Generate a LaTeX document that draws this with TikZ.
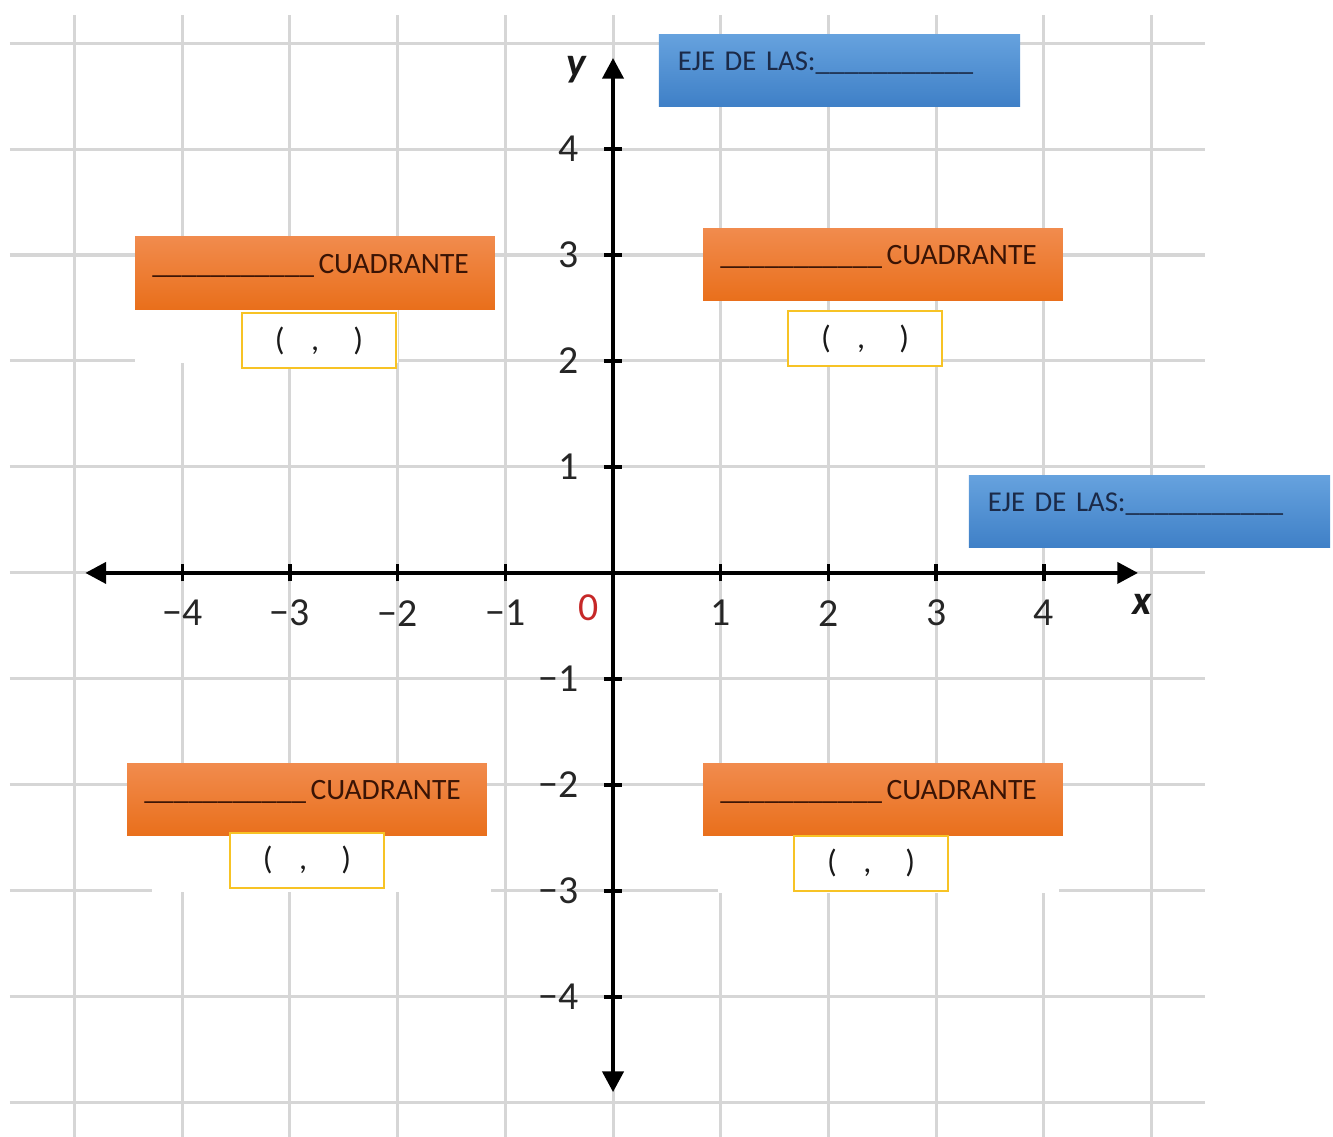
\documentclass[tikz,border=0pt]{standalone}
\usepackage{fontspec}
\setmainfont{Carlito}
\usetikzlibrary{arrows.meta}

\definecolor{rejilla}{HTML}{D6D6D6}
\definecolor{naranjaA}{HTML}{F18B4D}
\definecolor{naranjaB}{HTML}{E96F1B}
\definecolor{azulA}{HTML}{66A2DE}
\definecolor{azulB}{HTML}{3F80C7}
\definecolor{textoN}{HTML}{3A1405}
\definecolor{textoA}{HTML}{1B2A48}
\definecolor{amarillo}{HTML}{F7C325}
\definecolor{cero}{HTML}{C62828}

\newcommand{\raya}{\_\_\_\_\_\_\_\_\_\_\_}

\begin{document}
\begin{tikzpicture}[x=1cm, y=0.984cm,
        rejillalinea/.style={rejilla, line width=0.8pt},
        eje/.style={line width=1.2pt, {Triangle[length=5.5pt,width=5.5pt]}-{Triangle[length=5.5pt,width=5.5pt]}},
        marca/.style={line width=0.9pt},
        numero/.style={font=\fontsize{10.5}{12}\selectfont, text=black!85, inner sep=0pt},
        nombre/.style={font=\fontsize{11}{13}\selectfont\bfseries\itshape, text=black!90, inner sep=0pt},
        cuadrante/.style={top color=naranjaA, bottom color=naranjaB, text=textoN,
            font=\fontsize{7.8}{9}\selectfont, align=left, text width=86pt, inner xsep=4.5pt,
            minimum height=0.669cm, text height=5pt, text depth=5pt},
        ejelas/.style={top color=azulA, bottom color=azulB, text=textoA,
            font=\fontsize{7.6}{9}\selectfont, align=left, text width=85.4pt, inner xsep=5pt,
            minimum height=0.669cm, text height=5pt, text depth=5pt},
        par/.style={draw=amarillo, fill=white, line width=0.7pt, minimum width=1.43cm,
            minimum height=0.511cm, inner sep=0pt, font=\fontsize{8.5}{9}\selectfont, text=black!90}]

    \useasboundingbox (-5.692,-5.321) rectangle (6.685,5.406);

    % rejilla
    \foreach \i in {-5,...,5} {
        \draw[rejillalinea] (\i,-5.33) -- (\i,5.26);
        \draw[rejillalinea] (-5.6,\i) -- (5.5,\i);
    }
    \fill[white] (-4.44,1.98) rectangle (-2.0,2.5);
    \fill[white] (-4.28,-3.01) rectangle (-1.13,-2.47);
    \fill[white] (0.97,-3.02) rectangle (4.14,-2.47);

    % ejes
    \coordinate (xizq) at (-4.90,0);
    \coordinate (xder) at (4.875,0);
    \coordinate (yabj) at (0,-4.90);
    \coordinate (yarr) at (0,4.86);
    \draw[eje] (xizq) -- (xder);
    \draw[eje] (yabj) -- (yarr);

    \foreach \i in {-4,-3,-2,-1,1,2,3,4} {
        \draw[marca] (\i,-0.08) -- (\i,0.08);
        \draw[marca] (-0.08,\i) -- (0.08,\i);
    }
    \foreach \i in {1,...,4} {
        \node[numero] (xp\i) at (\i,-0.38) {\i};
        \node[numero] (xn\i) at (-\i,-0.38) {−\i};
        \node[numero, anchor=east] (yp\i) at (-0.31,\i) {\i};
        \node[numero, anchor=east] (yn\i) at (-0.31,-\i) {−\i};
    }
    \node[numero, text=cero] (cero) at (-0.223,-0.33) {0};
    \node[nombre] (nomx) at (4.91,-0.30) {x};
    \node[nombre] (nomy) at (-0.34,4.75) {y};

    % ejes de las ...
    \node[ejelas] (ejey) at (2.103,4.745) {EJE DE LAS:\raya};
    \node[ejelas] (ejex) at (4.981,0.58) {EJE DE LAS:\raya};

    % cuadrantes
    \node[cuadrante] (c2) at (-2.767,2.830) {\raya\hspace{1.2pt}CUADRANTE};
    \node[cuadrante] (c1) at (2.507,2.906) {\raya\hspace{1.2pt}CUADRANTE};
    \node[cuadrante] (c3) at (-2.841,-2.142) {\raya\hspace{1.2pt}CUADRANTE};
    \node[cuadrante] (c4) at (2.507,-2.142) {\raya\hspace{1.2pt}CUADRANTE};

    \node[par] (p2) at (-2.730,2.193) {(\hspace{7pt},\hspace{9pt})};
    \node[par] (p1) at (2.340,2.212) {(\hspace{7pt},\hspace{9pt})};
    \node[par] (p3) at (-2.841,-2.712) {(\hspace{7pt},\hspace{9pt})};
    \node[par] (p4) at (2.396,-2.741) {(\hspace{7pt},\hspace{9pt})};

\end{tikzpicture}
\end{document}
